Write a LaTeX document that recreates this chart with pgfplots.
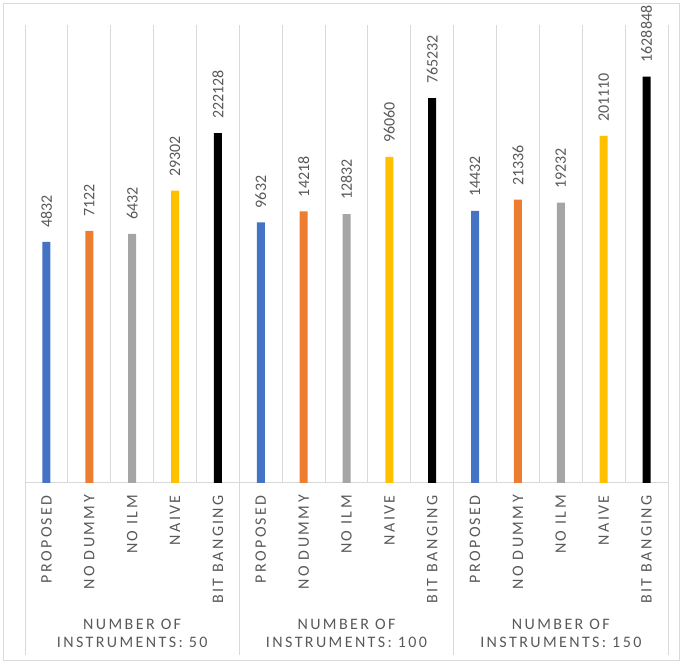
\documentclass[border=0pt]{standalone}
\usepackage{pgfplots}
\pgfplotsset{compat=1.18}
\usepackage{fontspec}
\setmainfont{Carlito}
\newfontfamily\spaced[LetterSpace=15]{Carlito}
\definecolor{cBlue}{HTML}{4472C4}
\definecolor{cOrange}{HTML}{ED7D31}
\definecolor{cGray}{HTML}{A5A5A5}
\definecolor{cYellow}{HTML}{FFC000}
\definecolor{cBlack}{HTML}{000000}
\definecolor{txt}{HTML}{595959}
\definecolor{gridc}{HTML}{D9D9D9}
\begin{document}
\begin{tikzpicture}[x=1pt,y=1pt]
\draw[gridc, line width=1pt] (3.5,3.5) rectangle (679.5,660.5);
\begin{axis}[
  at={(25pt,181pt)}, anchor=south west,
  scale only axis, width=643pt, height=458pt,
  ymode=log, ymin=1, ymax=1e7,
  xmin=0, xmax=15,
  axis x line*=bottom, axis y line=none,
  ytick=\empty,
  xtick={0.5,1.5,...,14.5},
  xticklabels={PROPOSED,NO DUMMY,NO ILM,NAIVE,BIT BANGING,
               PROPOSED,NO DUMMY,NO ILM,NAIVE,BIT BANGING,
               PROPOSED,NO DUMMY,NO ILM,NAIVE,BIT BANGING},
  minor xtick={0,1,...,15},
  xminorgrids, minor grid style={gridc, line width=1pt},
  major tick length=0pt, minor tick length=0pt,
  x axis line style={gridc, line width=1pt, -},
  xticklabel style={rotate=90, anchor=east, font=\spaced\fontsize{16}{19}\selectfont, text=txt, inner xsep=12pt, inner ysep=0pt},
  ybar, bar width=8pt, bar shift=0pt,
  point meta=explicit symbolic,
  nodes near coords={\hspace*{5pt}\pgfplotspointmeta},
  every node near coord/.append style={rotate=90, anchor=west, font=\fontsize{16}{19}\selectfont, text=txt, inner xsep=9pt, inner ysep=0pt},
  clip=false,
]
\addplot[fill=cBlue, draw=none] coordinates {(0.5,4832)[4832] (5.5,9632)[9632] (10.5,14432)[14432]};
\addplot[fill=cOrange, draw=none] coordinates {(1.5,7122)[7122] (6.5,14218)[14218] (11.5,21336)[21336]};
\addplot[fill=cGray, draw=none] coordinates {(2.5,6432)[6432] (7.5,12832)[12832] (12.5,19232)[19232]};
\addplot[fill=cYellow, draw=none] coordinates {(3.5,29302)[29302] (8.5,96060)[96060] (13.5,201110)[201110]};
\addplot[fill=cBlack, draw=none] coordinates {(4.5,222128)[222128] (9.5,765232)[765232] (14.5,1628848)[1628848]};
\end{axis}
% group separators below the category axis
\foreach \k in {0,5,10,15} {
  \draw[gridc, line width=1pt] ({25+643*\k/15},181) -- ({25+643*\k/15},9);
}
% group captions
\foreach \n [count=\i from 0] in {50,100,150} {
  \node[anchor=base, text=txt, font=\spaced\fontsize{16}{19}\selectfont, inner sep=0pt]
    at ({25+643*(5*\i+2.5)/15},34) {NUMBER OF};
  \node[anchor=base, text=txt, font=\spaced\fontsize{16}{19}\selectfont, inner sep=0pt]
    at ({25+643*(5*\i+2.5)/15},16) {INSTRUMENTS: \n};
}
% the page is exactly the framed area
\pgfresetboundingbox
\path (0,0) rectangle (683,664);
\end{tikzpicture}
\end{document}
